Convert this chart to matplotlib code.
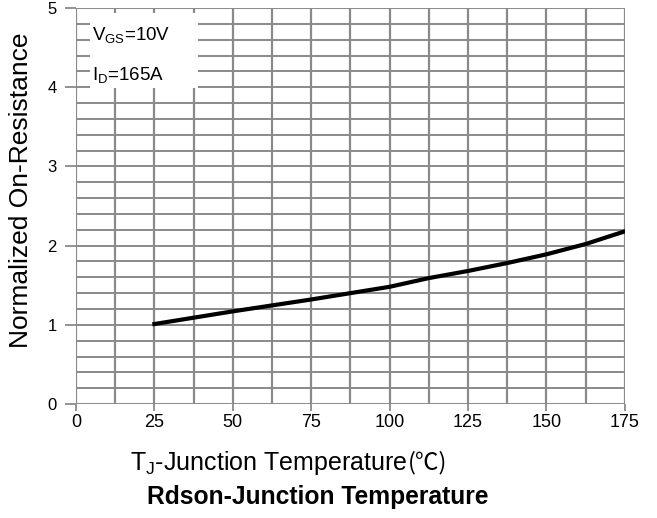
import numpy as np
import matplotlib
matplotlib.use('Agg')
import matplotlib.pyplot as plt
from matplotlib.patches import Rectangle

plt.rcParams['font.family'] = ['Liberation Sans', 'DejaVu Sans']
plt.rcParams['mathtext.fontset'] = 'custom'
plt.rcParams['mathtext.rm'] = 'Liberation Sans'
plt.rcParams['mathtext.it'] = 'Liberation Sans'

# curve
temp = [25, 37.5, 50, 62.5, 75, 87.5, 100, 112.5, 125, 137.5, 150, 162.5, 175]
rdson = [1.01, 1.09, 1.17, 1.245, 1.32, 1.40, 1.48, 1.59, 1.68, 1.78, 1.89, 2.02, 2.18]

xticks = [0, 25, 50, 75, 100, 125, 150, 175]
yticks = [0, 1, 2, 3, 4, 5]

gcol = '#8a8a8a'

fig = plt.figure(figsize=(6.57, 5.18), dpi=100)
ax = fig.add_axes([0.1157, 0.220, 0.8353, 0.7646])

# grid every 12.5 degC and 0.2
for x in np.arange(0, 175.1, 12.5):
    ax.axvline(x, color=gcol, lw=1.6, zorder=1)
for y in np.arange(0, 5.01, 0.2):
    ax.axhline(y, color=gcol, lw=1.4, zorder=1)

ax.add_patch(Rectangle((4.5, 3.99), 34.4, 0.95, facecolor='white', edgecolor='none', zorder=2))
ax.text(5.0, 4.66, r'V$_{\mathregular{GS}}$=10V', fontsize=13.5, va='center', zorder=3)
ax.text(5.0, 4.16, r'I$_{\mathregular{D}}$=165A', fontsize=13.5, va='center', zorder=3)

ax.plot(temp, rdson, color='black', lw=3, zorder=4)

ax.set_xlim(0, 175)
ax.set_ylim(0, 5)
ax.set_xticks(xticks)
ax.set_yticks(yticks)
ax.tick_params(axis='y', length=8, width=1.3, color=gcol, labelsize=12, pad=6)
ax.tick_params(axis='x', length=5, width=1.3, color=gcol, labelsize=13, pad=2)
for s in ax.spines.values():
    s.set_visible(False)

ax.set_ylabel('Normalized On-Resistance', fontsize=19)
ax.yaxis.set_label_coords(-0.078, 0.54)
t1 = fig.text(0.198, 0.107, 'T$_{\\mathregular{J}}$-Junction Temperature', fontsize=18, va='center')
ax.annotate('(℃)', xy=(1, 0.5), xycoords=t1, va='center', ha='left', fontsize=17,
            family=['Noto Sans CJK SC', 'DejaVu Sans'])
fig.text(0.224, 0.04, 'Rdson-Junction Temperature', fontsize=17.7, fontweight='bold', va='center')

fig.savefig('out.png', dpi=100)
